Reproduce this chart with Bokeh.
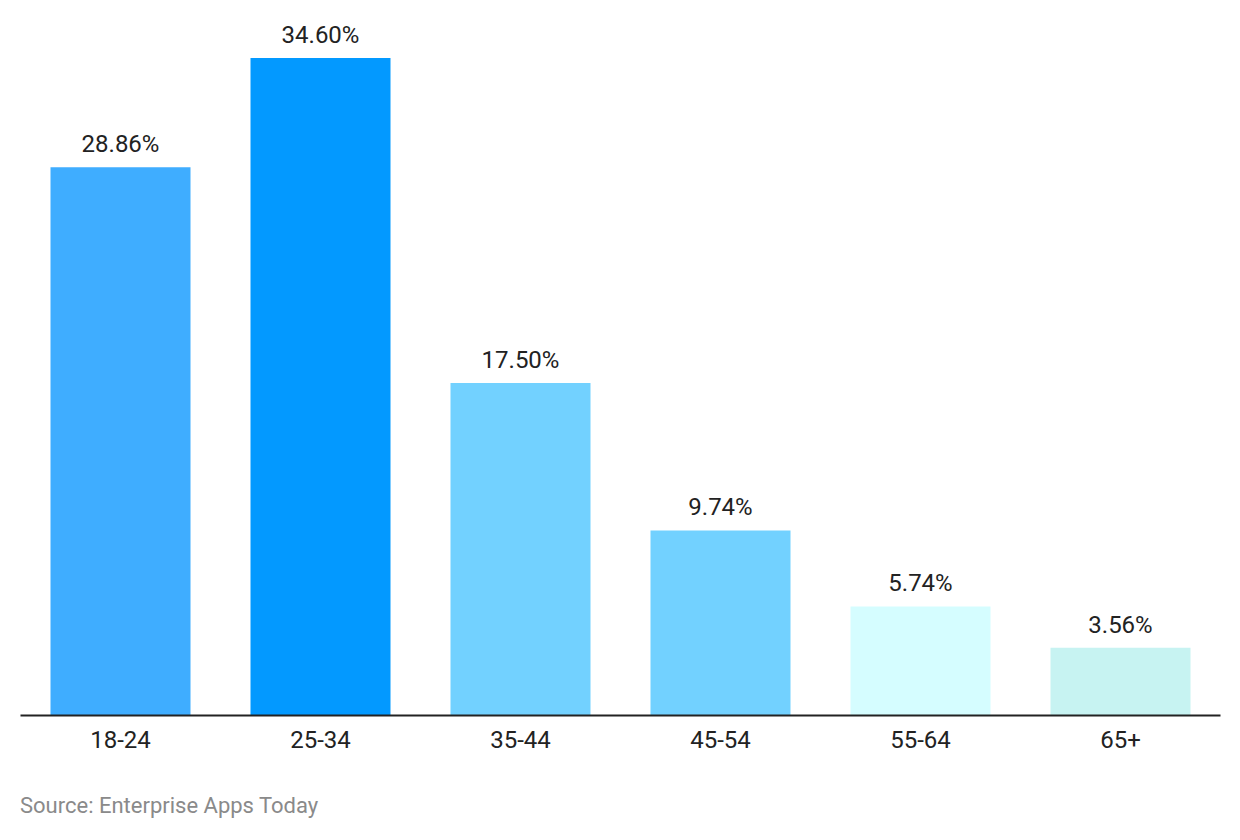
from bokeh.plotting import figure
from bokeh.models import ColumnDataSource, Range1d, Div
from bokeh.layouts import column
from bokeh.embed import file_html
from bokeh.resources import INLINE
from bokeh.core.properties import value

categories = ["18-24", "25-34", "35-44", "45-54", "55-64", "65+"]
shares = [28.86, 34.60, 17.50, 9.74, 5.74, 3.56]
colors = ["#3fadff", "#0399ff", "#72d1ff", "#72d1ff", "#d5fdff", "#c7f3f2"]
labels = [f"{v:.2f}%" for v in shares]
source_text = "Source: Enterprise Apps Today"

src = ColumnDataSource(dict(cat=categories, val=shares, color=colors, label=labels))

p = figure(x_range=categories, y_range=Range1d(0, 37), width=1232, height=760,
           output_backend="svg", toolbar_location=None,
           min_border_left=20, min_border_right=12, min_border_top=12, min_border_bottom=45)
p.vbar(x="cat", top="val", width=0.7, color="color", source=src, line_color=None)
p.text(x="cat", y="val", text="label", source=src, text_align="center",
       text_baseline="alphabetic", y_offset=-23, text_font=value("Roboto"),
       text_font_size="24px", text_color="#222222")

p.yaxis.visible = False
p.xgrid.visible = False
p.ygrid.visible = False
p.outline_line_color = None
p.xaxis.axis_line_color = "#222222"
p.xaxis.axis_line_width = 2
p.xaxis.major_tick_line_color = None
p.xaxis.minor_tick_line_color = None
p.xaxis.major_label_text_font = "Roboto"
p.xaxis.major_label_text_font_size = "24px"
p.xaxis.major_label_text_color = "#222222"
p.xaxis.major_label_standoff = 9
p.x_range.range_padding = 0
p.x_range.group_padding = 0

note = Div(text=('<div style="padding:33px 0 0 20px;font-family:Roboto;'
                 'font-size:22px;line-height:26px;color:#8a8a8a;white-space:nowrap">'
                 f'{source_text}</div>'),
           width=1232, height=60, margin=(0, 0, 0, 0))

layout = column(p, note, spacing=0)

open("out.html", "w").write(file_html(layout, INLINE))
